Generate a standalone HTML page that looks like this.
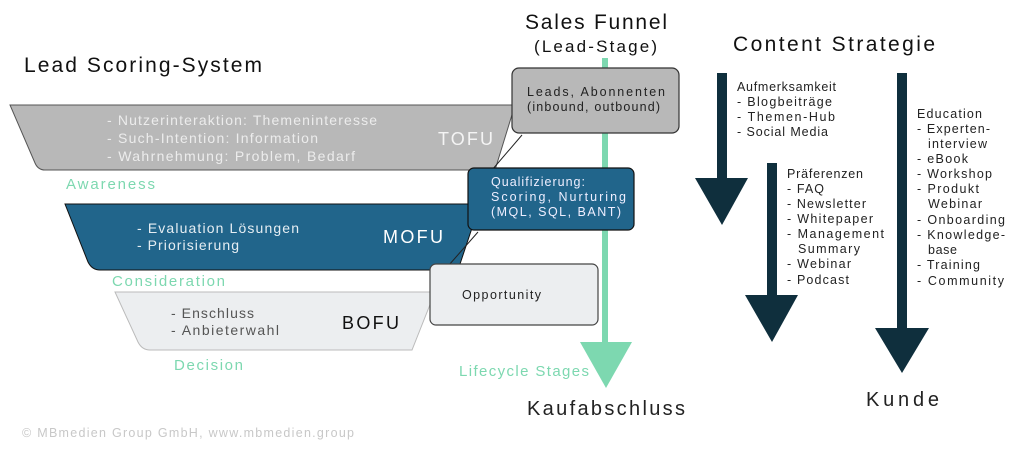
<!DOCTYPE html>
<html><head><meta charset="utf-8"><style>
html,body{margin:0;padding:0;background:#fff;}
svg{display:block;font-family:"Liberation Sans",sans-serif;}
</style></head><body>
<svg width="1024" height="461" viewBox="0 0 1024 461" xmlns="http://www.w3.org/2000/svg">
<!-- titles -->
<text x="24" y="72" font-size="21" fill="#111" textLength="238">Lead Scoring-System</text>
<text x="525" y="29" font-size="21" fill="#111" textLength="142">Sales Funnel</text>
<text x="534" y="52" font-size="17" fill="#111" textLength="123">(Lead-Stage)</text>
<text x="733" y="51" font-size="21" fill="#111" textLength="202">Content Strategie</text>

<!-- green arrow -->
<rect x="602" y="58" width="6" height="290" fill="#7dd8b0"/>
<polygon points="580,342 632,342 606,388" fill="#7dd8b0"/>
<text x="459" y="376" font-size="15" fill="#7dd8b0" textLength="130">Lifecycle Stages</text>
<text x="527" y="415" font-size="20" fill="#222" textLength="158">Kaufabschluss</text>

<!-- TOFU -->
<path d="M10,105 L515,105 L495,170 L45,170 Q38,170 35,163 Z" fill="#b8b8b8" stroke="#555" stroke-width="1"/>
<text x="107" y="125" font-size="14" fill="#ececec" textLength="270">- Nutzerinteraktion: Themeninteresse</text>
<text x="107" y="143" font-size="14" fill="#ececec" textLength="211">- Such-Intention: Information</text>
<text x="107" y="161" font-size="14" fill="#ececec" textLength="248">- Wahrnehmung: Problem, Bedarf</text>
<text x="438" y="145" font-size="18" fill="#f4f4f4" textLength="55">TOFU</text>
<text x="66" y="189" font-size="15" fill="#7dd8b0" textLength="89">Awareness</text>

<!-- MOFU -->
<path d="M65,204 L480,204 L458,270 L100,270 Q92,270 88,262 Z" fill="#21658b" stroke="#111" stroke-width="1"/>
<text x="137" y="233" font-size="14" fill="#e6eef3" textLength="162">- Evaluation Lösungen</text>
<text x="137" y="250" font-size="14" fill="#e6eef3" textLength="102">- Priorisierung</text>
<text x="383" y="243" font-size="18" fill="#fff" textLength="60">MOFU</text>
<text x="112" y="286" font-size="15" fill="#7dd8b0" textLength="113">Consideration</text>

<!-- BOFU -->
<path d="M115,292 L435,292 L412,350 L150,350 Q142,350 138,342 Z" fill="#eceef0" stroke="#bbb" stroke-width="1"/>
<text x="171" y="318" font-size="14" fill="#555" textLength="83">- Enschluss</text>
<text x="171" y="335" font-size="14" fill="#555" textLength="108">- Anbieterwahl</text>
<text x="342" y="329" font-size="18" fill="#111" textLength="57">BOFU</text>
<text x="174" y="370" font-size="15" fill="#7dd8b0" textLength="69">Decision</text>

<!-- connector lines -->
<line x1="522" y1="135" x2="492" y2="170" stroke="#222" stroke-width="1"/>
<line x1="478" y1="232" x2="449" y2="265" stroke="#222" stroke-width="1"/>

<!-- boxes -->
<rect x="512" y="68" width="167" height="65" rx="7" fill="#b8b8b8" stroke="#333" stroke-width="1.2"/>
<text x="527" y="96" font-size="12.5" fill="#222" textLength="138">Leads, Abonnenten</text>
<text x="527" y="111" font-size="12.5" fill="#222" textLength="133">(inbound, outbound)</text>

<rect x="468" y="168" width="166" height="62" rx="6" fill="#21658b" stroke="#111" stroke-width="1.2"/>
<text x="491" y="186" font-size="12.5" fill="#eef" textLength="94">Qualifizierung:</text>
<text x="491" y="201" font-size="12.5" fill="#eef" textLength="135">Scoring, Nurturing</text>
<text x="491" y="216" font-size="12.5" fill="#eef" textLength="130">(MQL, SQL, BANT)</text>

<rect x="430" y="264" width="168" height="61" rx="6" fill="#eceef0" stroke="#444" stroke-width="1.2"/>
<text x="462" y="299" font-size="12.5" fill="#222" textLength="79">Opportunity</text>

<!-- dark arrows -->
<g fill="#0f2f3d">
<rect x="717" y="73" width="10" height="107"/>
<polygon points="695,178 748,178 722,225"/>
<rect x="767" y="163" width="10" height="134"/>
<polygon points="745,295 798,295 772,342"/>
<rect x="897" y="73" width="10" height="257"/>
<polygon points="875,328 929,328 902,373"/>
</g>
<g font-size="12.5" fill="#222">
<text x="737" y="91" textLength="99">Aufmerksamkeit</text>
<text x="737" y="106" textLength="95">-  Blogbeiträge</text>
<text x="737" y="121" textLength="98">-  Themen-Hub</text>
<text x="737" y="136" textLength="91">-  Social Media</text>
<text x="787" y="178" textLength="76">Präferenzen</text>
<text x="787" y="193" textLength="37">-  FAQ</text>
<text x="787" y="208" textLength="79">-  Newsletter</text>
<text x="787" y="223" textLength="86">-  Whitepaper</text>
<text x="787" y="238" textLength="97">-  Management</text>
<text x="798" y="253" textLength="62">Summary</text>
<text x="787" y="268" textLength="64">-  Webinar</text>
<text x="787" y="284" textLength="62">-  Podcast</text>
<text x="917" y="118" textLength="65">Education</text>
<text x="917" y="133" textLength="73">-  Experten-</text>
<text x="928" y="148" textLength="59">interview</text>
<text x="917" y="163" textLength="51">-  eBook</text>
<text x="917" y="178" textLength="75">-  Workshop</text>
<text x="917" y="193" textLength="62">-  Produkt</text>
<text x="928" y="208" textLength="54">Webinar</text>
<text x="917" y="224" textLength="88">-  Onboarding</text>
<text x="917" y="239" textLength="88">-  Knowledge-</text>
<text x="928" y="254" textLength="29">base</text>
<text x="917" y="269" textLength="63">-  Training</text>
<text x="917" y="285" textLength="87">-  Community</text>
</g>
<text x="866" y="406" font-size="20" fill="#222" textLength="73">Kunde</text>
<text x="22" y="437" font-size="12.5" fill="#c8c8c8" textLength="332">© MBmedien Group GmbH, www.mbmedien.group</text>
</svg>
</body></html>
